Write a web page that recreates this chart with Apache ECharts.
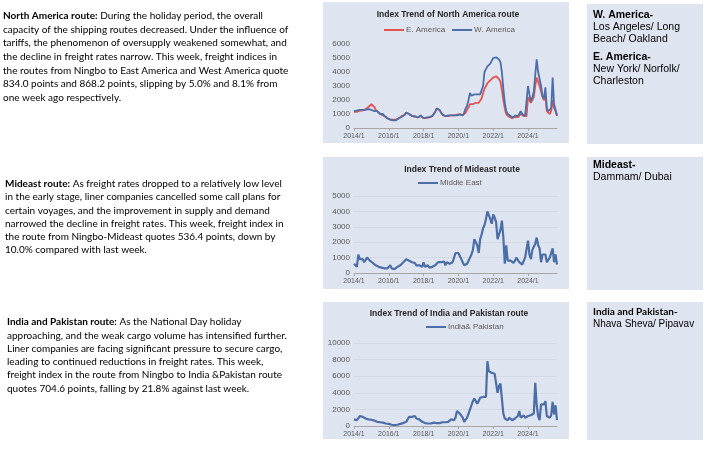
<!DOCTYPE html>
<html><head><meta charset="utf-8">
<script src="https://cdn.jsdelivr.net/npm/echarts@6/dist/echarts.min.js"></script>
<style>html,body{margin:0;padding:0;background:#fff}#c{width:710px;height:449px}</style>
</head><body><div id="c"></div>
<script>
// month categories 2014/1 .. 2025/9
const months = [];
for (let y = 2014; y <= 2025; y++) for (let m = 1; m <= 12; m++) if (months.length < 141) months.push(y + '/' + m);

const eAmerica = [
1150,1100,1150,1200,1250,1200,1250,1300,1350,1400,1500,1550,
1700,1650,1500,1300,1200,1100,1000,950,900,850,800,700,
650,600,550,600,650,600,650,700,750,850,900,950,
1100,1150,1000,900,850,850,800,800,750,800,850,800,
700,650,700,750,750,750,850,950,1150,1350,1400,1300,
1100,950,900,850,850,850,900,900,850,900,950,950,
1000,1000,900,900,950,1100,1300,1500,1700,1700,1700,1800,
1800,1750,1800,1850,2100,2500,2800,3000,3200,3300,3400,3500,
3600,3700,3700,3600,3500,3300,2700,2000,1400,1000,900,800,
750,700,700,800,750,750,850,1000,900,850,800,850,
2200,2000,1800,1700,2200,3000,3600,3300,3000,2600,2200,2000,
2200,1200,1100,1000,1200,2000,1400,1200,850];

const wAmerica = [
1200,1150,1250,1200,1300,1250,1300,1350,1300,1250,1350,1400,
1300,1250,1200,1250,1200,1100,1000,900,1000,850,750,700,
650,600,500,550,600,550,650,700,750,800,900,950,
1100,1200,1000,900,850,900,850,800,750,850,900,800,
700,650,750,800,800,750,850,950,1150,1400,1500,1300,
1100,950,900,850,900,900,950,900,850,900,950,900,
950,950,900,900,1100,1400,1600,2000,2500,2300,2300,2400,
2300,2400,2300,2400,2500,3000,4000,4200,4400,4500,4600,4800,
5000,5100,5050,4950,4900,4700,4000,2800,1800,1200,1000,900,
850,800,750,900,800,850,1000,1200,1000,900,850,950,
3000,2400,1900,2200,2600,3800,4900,4000,3500,3000,2300,2100,
2900,1400,1200,1100,1400,3600,1700,1300,900];

const middleEast = [
600,500,400,1200,900,800,900,700,750,1000,900,800,
700,650,600,500,550,400,450,350,400,300,350,300,
250,500,300,200,250,300,400,450,500,600,700,600,
900,850,800,900,700,600,650,500,400,500,600,400,
700,400,300,500,350,300,400,350,500,600,700,600,
700,600,750,500,700,800,600,500,700,1000,1300,1200,
1300,1100,900,700,500,400,600,800,1000,1200,1500,2200,
2300,1800,1300,2200,2500,2900,3100,3500,4000,3900,3500,3200,
3800,3600,3300,2200,2300,2800,3400,2300,600,1800,800,900,
800,700,650,800,1000,900,700,600,550,500,1000,900,
2100,1200,900,1500,1700,1900,2300,1800,1600,700,1200,1300,
1200,700,800,1000,900,1600,700,1200,550];

const indiaPakistan = [
800,700,700,900,1200,1200,1100,1000,900,850,800,800,
750,700,650,600,500,500,450,400,400,350,300,300,
250,200,150,150,100,100,150,200,250,300,350,400,
500,800,1100,1200,1100,1000,1200,900,700,800,600,500,
400,350,300,300,350,300,350,400,300,350,400,350,
400,450,500,450,600,500,700,800,600,700,1000,1800,
1700,1500,1300,1000,500,600,1000,1500,2000,2500,3000,3300,
3200,2700,3000,3400,3300,3500,3600,3500,7800,6600,6500,6400,
6500,6300,6200,4000,4800,5100,5000,1500,900,800,700,1000,
900,700,800,900,1000,1200,1800,1000,1100,1300,1000,1100,
1200,1000,1300,1200,1500,5200,2500,1200,700,2600,2800,2600,
3000,1200,1100,1000,1300,2900,1400,2500,700];

const chartTitles = ['Index Trend of North America route', 'Index Trend of Mideast route', 'Index Trend of India and Pakistan route'];

const para1 = [
 ['North America route:', ' During the holiday period, the overall'],
 ['', 'capacity of the shipping routes decreased. Under the influence of'],
 ['', 'tariffs, the phenomenon of oversupply weakened somewhat, and'],
 ['', 'the decline in freight rates narrow. This week, freight indices in'],
 ['', 'the routes from Ningbo to East America and West America quote'],
 ['', '834.0 points and 868.2 points, slipping by 5.0% and 8.1% from'],
 ['', 'one week ago respectively.']];
const para2 = [
 ['Mideast route:', ' As freight rates dropped to a relatively low level'],
 ['', 'in the early stage, liner companies cancelled some call plans for'],
 ['', 'certain voyages, and the improvement in supply and demand'],
 ['', 'narrowed the decline in freight rates. This week, freight index in'],
 ['', 'the route from Ningbo-Mideast quotes 536.4 points, down by'],
 ['', '10.0% compared with last week.']];
const para3 = [
 ['India and Pakistan route:', ' As the National Day holiday'],
 ['', 'approaching, and the weak cargo volume has intensified further.'],
 ['', 'Liner companies are facing significant pressure to secure cargo,'],
 ['', 'leading to continued reductions in freight rates. This week,'],
 ['', 'freight index in the route from Ningbo to India &Pakistan route'],
 ['', 'quotes 704.6 points, falling by 21.8% against last week.']];

const box1 = [['W. America-', true], ['Los Angeles/ Long', false], ['Beach/ Oakland', false], ['E. America-', true], ['New York/ Norfolk/', false], ['Charleston', false]];
const box2 = [['Mideast-', true], ['Dammam/ Dubai', false]];
const box3 = [['India and Pakistan-', true], ['Nhava Sheva/ Pipavav', false]];

const RED = '#E5534F', BLUE = '#4C6EA8', PANEL = '#DFE5F0';
const BODY = 'Lato', SANS = '"Liberation Sans", Arial, sans-serif';
const BODY_SIZE = 10;

const graphics = [];
function rect(x, y, w, h) { graphics.push({type:'rect', z:-10, silent:true, shape:{x, y, width:w, height:h}, style:{fill:PANEL}}); }
rect(323, 2, 246, 141); rect(323, 157, 246, 132); rect(323, 302, 246, 137);
rect(587, 4, 116, 140); rect(587, 157, 116, 133); rect(587, 302, 116, 138);

function para(lines, x, y0, lh) {
  lines.forEach((ln, i) => {
    const txt = (ln[0] ? '{b|' + ln[0] + '}' : '') + ln[1];
    graphics.push({type:'text', x, y:y0 + i*lh, silent:true, style:{
      text: txt, fill:'#000', fontFamily:BODY, fontSize:BODY_SIZE, verticalAlign:'middle', align:'left',
      rich:{b:{fontFamily:BODY, fontSize:BODY_SIZE, fontWeight:'bold', fill:'#000', verticalAlign:'middle'}}
    }});
  });
}
para(para1, 3, 16, 13.6);
para(para2, 5, 184, 13.2);
para(para3, 7, 322, 13.3);

function box(lines, x, ys, boldFont, size) {
  lines.forEach((ln, i) => {
    graphics.push({type:'text', x, y:ys[i], silent:true, style:{
      text: ln[0], fill:'#000', verticalAlign:'middle', align:'left',
      fontFamily: ln[1] && boldFont ? boldFont : SANS, fontSize: ln[1] && boldFont ? 10 : size, fontWeight: ln[1] ? 'bold' : 'normal'
    }});
  });
}
box(box1, 593, [15, 27.3, 39.3, 57, 69, 81], null, 10.5);
box(box2, 593, [165, 177], null, 10.5);
box(box3, 593, [312, 324], BODY, 10);

const titleXY = [[448, 15], [462, 170], [449, 314]];
chartTitles.forEach((t, i) => graphics.push({type:'text', x:titleXY[i][0], y:titleXY[i][1], silent:true,
  style:{text:t, fill:'#262626', font:'bold 8.5px ' + SANS, align:'center', verticalAlign:'middle'}}));

const grids = [
  {left:354, right:153, top:44, bottom:321},
  {left:354, right:153, top:196, bottom:176},
  {left:354, right:153, top:343, bottom:23}];
const yMax = [6000, 5000, 10000], yInt = [1000, 1000, 2000];

const xAxes = grids.map((g, i) => ({type:'category', gridIndex:i, data:months, boundaryGap:false,
  axisLine:{lineStyle:{color:'#a6a6a6', width:1}},
  axisTick:{interval:23, length:3, lineStyle:{color:'#a6a6a6'}},
  axisLabel:{interval:23, fontSize:7, color:'#595959', margin:5, fontFamily:SANS}}));
const yAxes = grids.map((g, i) => ({type:'value', gridIndex:i, min:0, max:yMax[i], interval:yInt[i],
  axisLine:{show:false}, axisTick:{show:false},
  axisLabel:{fontSize:8, color:'#595959', margin:4, fontFamily:SANS, formatter: v => String(v)},
  splitLine:{show:i > 0, lineStyle:{type:'dotted', color:'#c3cad8', width:0.8}}}));

function ser(name, data, idx, color, w) {
  return {name, type:'line', data, xAxisIndex:idx, yAxisIndex:idx, symbol:'none', showSymbol:false,
    lineStyle:{color, width:w}, itemStyle:{color}, animation:false};
}

const legendBase = {orient:'horizontal', icon:'rect', itemWidth:20, itemHeight:2, padding:0, itemGap:7,
  textStyle:{fontSize:8, color:'#595959', fontFamily:SANS, padding:[0,0,0,-3]}};

const chart = echarts.init(document.getElementById('c'), null, {renderer:'canvas'});
chart.setOption({
  backgroundColor:'#fff',
  animation:false,
  grid: grids,
  xAxis: xAxes,
  yAxis: yAxes,
  legend: [
    Object.assign({}, legendBase, {data:['E. America', 'W. America'], left:384, top:26}),
    Object.assign({}, legendBase, {data:['Middle East'], left:418, top:179}),
    Object.assign({}, legendBase, {data:['India& Pakistan'], left:426, top:323})],
  series: [
    ser('E. America', eAmerica, 0, RED, 1.8),
    ser('W. America', wAmerica, 0, BLUE, 1.8),
    ser('Middle East', middleEast, 1, BLUE, 2.2),
    ser('India& Pakistan', indiaPakistan, 2, BLUE, 2.2)],
  graphic: graphics
});
</script></body></html>
